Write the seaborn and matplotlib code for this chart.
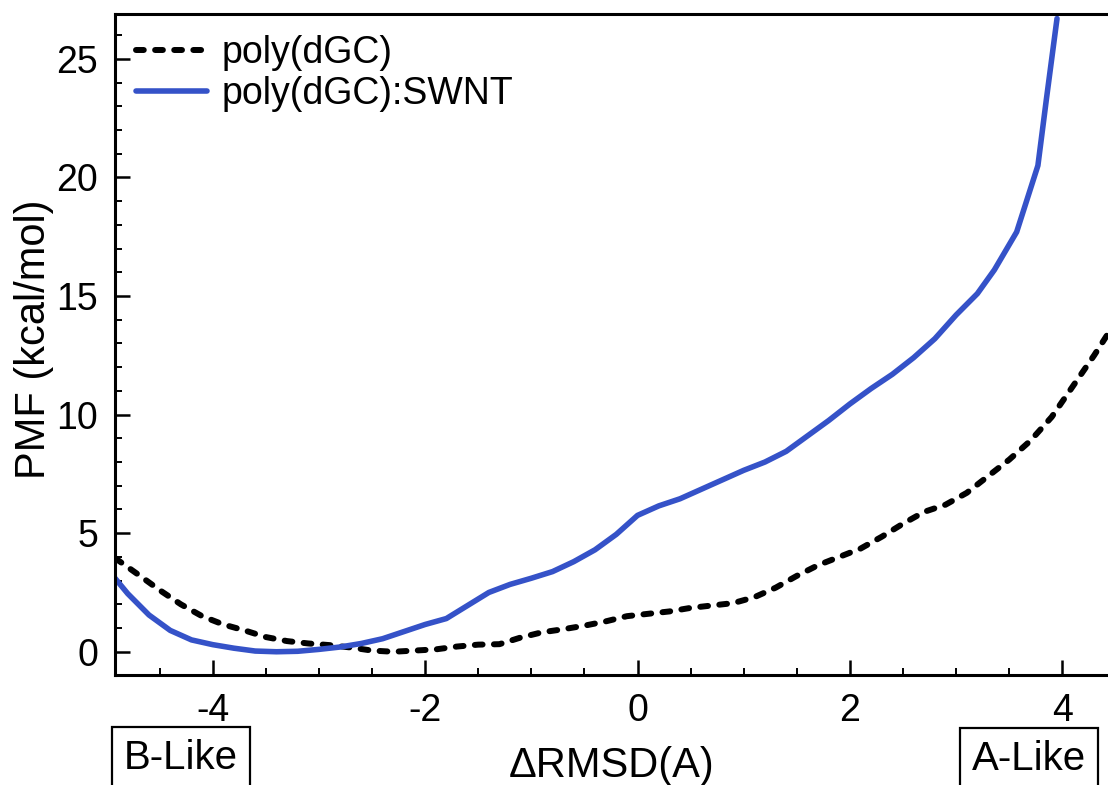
import numpy as np
import pandas as pd
import matplotlib
matplotlib.use("Agg")
import matplotlib.pyplot as plt
import seaborn as sns
from matplotlib.ticker import MultipleLocator

# ---- data ----
x_dgc = [-4.92, -4.7, -4.5, -4.3, -4.1, -3.9, -3.7, -3.5, -3.3, -3.1, -2.9, -2.7, -2.5,
         -2.3, -2.1, -1.9, -1.7, -1.5, -1.3, -1.1, -0.9, -0.7, -0.5, -0.3, -0.1, 0.1,
         0.3, 0.5, 0.7, 0.9, 1.1, 1.3, 1.5, 1.7, 1.9, 2.1, 2.3, 2.5, 2.7, 2.9, 3.1,
         3.3, 3.5, 3.7, 3.9, 4.1, 4.3, 4.5]
y_dgc = [3.95, 3.25, 2.6, 2.0, 1.5, 1.15, 0.9, 0.62, 0.45, 0.35, 0.28, 0.18, 0.05,
         0.0, 0.05, 0.1, 0.22, 0.3, 0.32, 0.6, 0.82, 0.95, 1.1, 1.28, 1.5, 1.6,
         1.7, 1.85, 1.95, 2.05, 2.3, 2.7, 3.2, 3.65, 4.0, 4.35, 4.85, 5.4, 5.9, 6.2, 6.7,
         7.4, 8.1, 8.9, 9.9, 11.2, 12.5, 13.9]

x_swnt = [-4.92, -4.8, -4.6, -4.4, -4.2, -4.0, -3.8, -3.6, -3.4, -3.2, -3.0, -2.8, -2.6,
          -2.4, -2.2, -2.0, -1.8, -1.6, -1.4, -1.2, -1.0, -0.8, -0.6, -0.4, -0.2, 0.0,
          0.2, 0.4, 0.6, 0.8, 1.0, 1.2, 1.4, 1.6, 1.8, 2.0, 2.2, 2.4, 2.6, 2.8, 3.0,
          3.2, 3.36, 3.57, 3.77, 3.85, 3.95]
y_swnt = [3.1, 2.45, 1.55, 0.9, 0.5, 0.3, 0.15, 0.03, 0.0, 0.02, 0.1, 0.2, 0.35,
          0.55, 0.85, 1.15, 1.4, 1.95, 2.5, 2.84, 3.1, 3.38, 3.8, 4.3, 4.95, 5.75,
          6.15, 6.45, 6.85, 7.25, 7.65, 8.0, 8.45, 9.1, 9.75, 10.45, 11.1, 11.7, 12.4, 13.2, 14.2,
          15.1, 16.1, 17.7, 20.5, 23.3, 26.7]

series_labels = ["poly(dGC)", "poly(dGC):SWNT"]
x_ticks = [-4, -2, 0, 2, 4]
y_ticks = [0, 5, 10, 15, 20, 25]

# ---- style ----
sns.set_theme(style="ticks")
plt.rcParams["font.family"] = ["Liberation Sans", "DejaVu Sans"]
plt.rcParams["axes.linewidth"] = 2.2
plt.rcParams["axes.unicode_minus"] = False
plt.rcParams["text.color"] = "black"
plt.rcParams["axes.labelcolor"] = "black"
plt.rcParams["xtick.color"] = "black"
plt.rcParams["ytick.color"] = "black"

W, H = 1108, 785
fig = plt.figure(figsize=(W / 100, H / 100), dpi=100)
L, R, T, B = 115, 1108, 14, 675
ax = fig.add_axes([L / W, 1 - B / H, (R - L) / W, (B - T) / H])

df1 = pd.DataFrame({"x": x_dgc, "y": y_dgc})
df2 = pd.DataFrame({"x": x_swnt, "y": y_swnt})

sns.lineplot(data=df1, x="x", y="y", ax=ax, color="black", lw=4.3,
             label=series_labels[0], sort=False)
sns.lineplot(data=df2, x="x", y="y", ax=ax, color="#3552C8", lw=4.0,
             label=series_labels[1], sort=False)
ax.lines[0].set_linestyle((0, (1.3, 1.9)))
ax.lines[0].set_dash_capstyle("round")

ax.set_xlim(-4.92, 4.43)
ax.set_ylim(-0.98, 26.89)

ax.set_xticks(x_ticks)
ax.set_yticks(y_ticks)
ax.xaxis.set_minor_locator(MultipleLocator(0.5))
ax.yaxis.set_minor_locator(MultipleLocator(1))

ax.tick_params(axis="both", which="major", direction="in", length=10.5, width=1.8,
               labelsize=27, color="black", labelcolor="black")
ax.tick_params(axis="both", which="minor", direction="in", length=5, width=1.4, color="black")
ax.tick_params(axis="x", which="major", pad=13)
ax.tick_params(axis="y", which="major", pad=12)
ax.spines["right"].set_visible(False)
for s in ["left", "bottom", "top"]:
    ax.spines[s].set_color("black")

ax.set_xlabel("ΔRMSD(A)", fontsize=30, color="black")
ax.xaxis.label.set_va("center")
ax.xaxis.set_label_coords(0.5, -(766 - B) / (B - T))
ax.set_ylabel("PMF (kcal/mol)", fontsize=30, color="black")
ax.yaxis.label.set_va("center")
ax.yaxis.set_label_coords((34 - L) / (R - L), (B - 339) / (B - T))

box = dict(boxstyle="square,pad=0.3", fc="white", ec="black", lw=1.6)
ax.text((181 - L) / (R - L), -(758 - B) / (B - T), "B-Like", transform=ax.transAxes,
        ha="center", va="center", fontsize=29, bbox=box, clip_on=False, color="black")
ax.text((1029 - L) / (R - L), -(759 - B) / (B - T), "A-Like", transform=ax.transAxes,
        ha="center", va="center", fontsize=29, bbox=box, clip_on=False, color="black")

leg = ax.legend(loc="upper left", frameon=False, fontsize=27, handlelength=1.9,
                handletextpad=0.4, labelspacing=0.15, borderaxespad=0.3,
                borderpad=0.25)
for t in leg.get_texts():
    t.set_color("black")

fig.savefig("out.png", dpi=100, facecolor="white")
